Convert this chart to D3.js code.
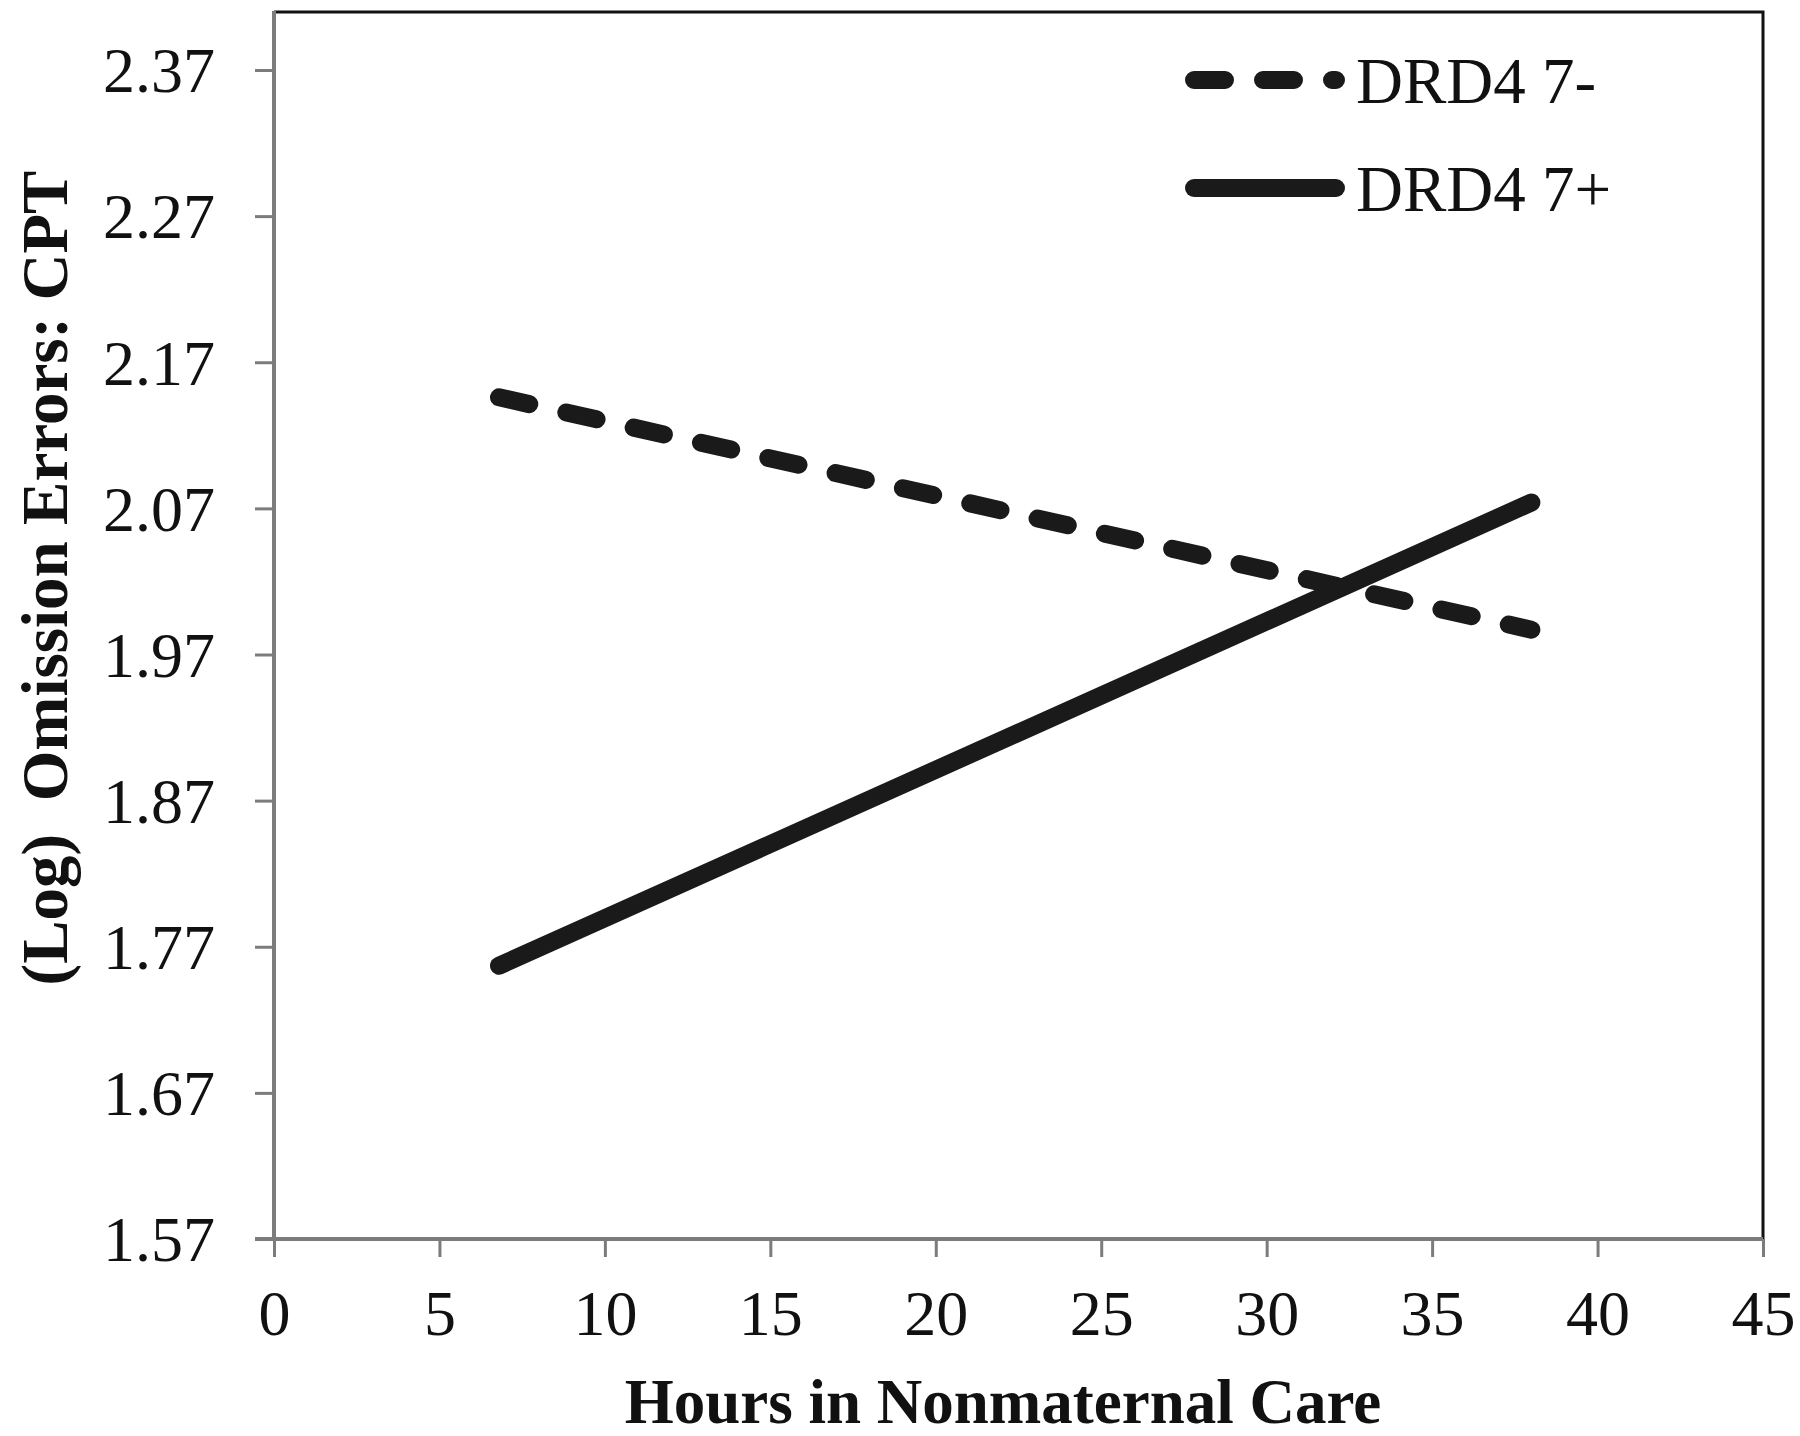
<!DOCTYPE html>
<html>
<head>
<meta charset="utf-8">
<script src="https://cdn.jsdelivr.net/npm/d3@7"></script>
<style>
    body { margin: 0; background: #fff; }
    text { font-family: "Liberation Serif", "Times New Roman", serif; fill: #111; }
</style>
</head>
<body>
<svg id="chart" width="1800" height="1436"></svg>
<script>
// data
var seriesNames = ["DRD4 7-", "DRD4 7+"];
var hours = [6.8, 38];
var drd4Minus = [2.146, 1.987];
var drd4Plus = [1.757, 2.074];
var xTicks = [0, 5, 10, 15, 20, 25, 30, 35, 40, 45];
var yTicks = [1.57, 1.67, 1.77, 1.87, 1.97, 2.07, 2.17, 2.27, 2.37];

var svgWidth = 1800,
    svgHeight = 1436;

var plot = { left: 274, right: 1763, top: 12, bottom: 1239, yTop: 70 };
var axisGrey = "#7c7c7c";

var svg = d3.select("#chart");

var xScale = d3.scaleLinear()
    .domain([0, 45])
    .range([plot.left, plot.right]);

var yScale = d3.scaleLinear()
    .domain([1.57, 2.37])
    .range([plot.bottom, plot.yTop]);

// top and right border of plot area (black)
svg.append("path")
    .attr("d", "M" + plot.left + "," + plot.top + "H" + plot.right + "V" + plot.bottom)
    .attr("fill", "none")
    .attr("stroke", "#111")
    .attr("stroke-width", 3);

// y axis
var yAxis = svg.append("g")
    .attr("transform", "translate(" + plot.left + ",0)")
    .call(d3.axisLeft(yScale).tickValues(yTicks).tickFormat(d3.format(".2f")).tickSize(19).tickPadding(40));

yAxis.select(".domain").remove();
yAxis.selectAll(".tick line").attr("stroke", axisGrey).attr("stroke-width", 3);
yAxis.selectAll(".tick text")
    .attr("font-size", 64)
    .attr("font-family", "Liberation Serif")
    .attr("fill", "#111")
    .attr("dy", "0.34em");

svg.append("line")
    .attr("x1", plot.left).attr("x2", plot.left)
    .attr("y1", plot.top - 1).attr("y2", plot.bottom)
    .attr("stroke", axisGrey)
    .attr("stroke-width", 4);

// x axis
var xAxis = svg.append("g")
    .attr("transform", "translate(0," + plot.bottom + ")")
    .call(d3.axisBottom(xScale).tickValues(xTicks).tickSize(18).tickPadding(33));

xAxis.select(".domain").remove();
xAxis.selectAll(".tick line").attr("stroke", axisGrey).attr("stroke-width", 3);
xAxis.selectAll(".tick text")
    .attr("font-size", 64)
    .attr("font-family", "Liberation Serif")
    .attr("fill", "#111")
    .attr("dy", "0.71em");

svg.append("line")
    .attr("x1", plot.left - 19).attr("x2", plot.right)
    .attr("y1", plot.bottom).attr("y2", plot.bottom)
    .attr("stroke", axisGrey)
    .attr("stroke-width", 4);

// lines
var line = d3.line()
    .x(function(d) { return xScale(d.x); })
    .y(function(d) { return yScale(d.y); });

var series = [
    { name: seriesNames[0], values: drd4Minus, dash: "31,38" },
    { name: seriesNames[1], values: drd4Plus, dash: null }
];

series.forEach(function(s) {
    var pts = hours.map(function(h, i) { return { x: h, y: s.values[i] }; });
    svg.append("path")
        .datum(pts)
        .attr("d", line)
        .attr("fill", "none")
        .attr("stroke", "#1a1a1a")
        .attr("stroke-width", 18)
        .attr("stroke-linecap", "round")
        .attr("stroke-dasharray", s.dash);
});

// legend
var legend = svg.append("g").attr("class", "legend");
var legendRows = [80, 188];

series.forEach(function(s, i) {
    legend.append("line")
        .attr("x1", 1194).attr("x2", 1336)
        .attr("y1", legendRows[i]).attr("y2", legendRows[i])
        .attr("stroke", "#1a1a1a")
        .attr("stroke-width", 18)
        .attr("stroke-linecap", "round")
        .attr("stroke-dasharray", s.dash);
    legend.append("text")
        .attr("x", 1356)
        .attr("y", legendRows[i])
        .attr("dy", "0.35em")
        .attr("font-size", 65)
        .text(s.name);
});

// axis titles
svg.append("text")
    .attr("transform", "translate(67,578) rotate(-90)")
    .attr("text-anchor", "middle")
    .attr("font-size", 65)
    .attr("font-weight", "bold")
    .attr("xml:space", "preserve")
    .style("white-space", "pre")
    .text("(Log)  Omission Errors: CPT");

svg.append("text")
    .attr("x", 1003)
    .attr("y", 1423)
    .attr("text-anchor", "middle")
    .attr("font-size", 63)
    .attr("font-weight", "bold")
    .text("Hours in Nonmaternal Care");
</script>
</body>
</html>
